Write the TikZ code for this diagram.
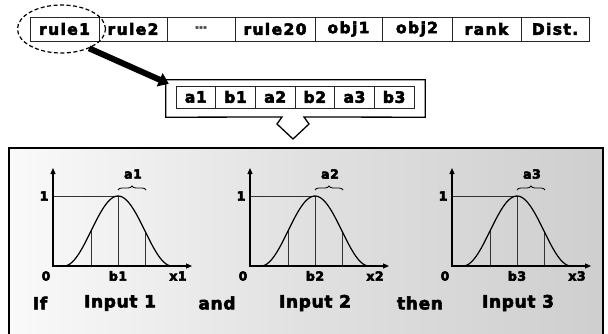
\documentclass[tikz,border=0pt]{standalone}
\usepackage{fontspec}
\newfontfamily\hv{DejaVu Sans}[LetterSpace=4]
\newfontfamily\hvwide{DejaVu Sans}[LetterSpace=9]
\usetikzlibrary{arrows.meta,decorations.pathreplacing,calc,shapes.geometric}
% light-to-grey wash behind the membership functions
\pgfdeclarehorizontalshading{panelfade}{100bp}{color(0bp)=(white); color(20bp)=(white); color(50bp)=(black!12); color(100bp)=(black!26)}
% outline-and-fill text rendering for an extra heavy weight
\newcommand\heavyon{\special{pdf:literal direct 2 Tr 0.55 w}}
\newcommand\heavyoff{\special{pdf:literal direct 0 Tr}}
\begin{document}
\begin{tikzpicture}[x=1pt,y=-1pt,
  heavy/.style={execute at begin node=\heavyon, execute at end node=\heavyoff},
  cell/.style={draw=black!85, line width=0.9pt, inner sep=0pt, minimum height=24pt, heavy,
    font=\hvwide\bfseries\fontsize{15.5}{16}\selectfont},
  subcell/.style={cell, minimum height=22pt, minimum width=39.7pt,
    font=\hv\bfseries\fontsize{15.5}{16}\selectfont},
  ring/.style={draw, ellipse, dashed, dash pattern=on 4pt off 2.5pt, line width=1.2pt,
    minimum width=88pt, minimum height=48pt, inner sep=0pt},
  bigarrow/.style={line width=6pt, -{Triangle[length=10pt,width=14pt]}},
  outline/.style={draw, line width=1.3pt, fill=white, line join=miter},
  axis/.style={line width=1.1pt, {Triangle[length=6pt,width=5pt]}-{Triangle[length=6pt,width=5pt]}},
  curve/.style={line width=1.2pt},
  guide/.style={line width=0.5pt, black!80},
  tick/.style={font=\hv\bfseries\fontsize{12.5}{13}\selectfont, inner sep=0pt, heavy},
  word/.style={font=\hv\bfseries\fontsize{17}{18}\selectfont, inner sep=0pt, heavy}]
\clip (0,0) rectangle (608,333);

% record layout
\foreach \n/\l/\r/\t in {1/30/99/rule1, 2/99/167/rule2, 3/167/235/{\fontsize{12}{12}\selectfont\textcolor{black!70}{⋯}},
    4/235/315/rule20, 5/315/382/obj1, 6/382/452/obj2, 7/452/521/rank, 8/521/589/Dist.}
  \node[cell, minimum width={\r-\l}] (c\n) at ({(\l+\r)/2},29) {\t};
\node[ring] (ring) at (61.5,29) {};

% parameters of one rule
\node[minimum width=259pt, minimum height=37pt, inner sep=0pt] (strip) at (295.5,98.5) {};
\coordinate (drop) at (293,117);
\path[outline] ($(drop)+(-11,0)$) -- (strip.south west) -- (strip.north west) -- (strip.north east)
  -- (strip.south east) -- ($(drop)+(11,0)$) -- ($(drop)+(16,7)$) -- ($(drop)+(0,22)$)
  -- ($(drop)+(-16,7)$) -- cycle;
\foreach \i/\t in {0/a1,1/b1,2/a2,3/b2,4/a3,5/b3}
  \node[subcell] (p\i) at ({176+39.67*(\i+0.5)},97) {\t};
\draw[bigarrow] (ring.-35) -- ($(strip.north west)+(3,4)$);

% rule panel
\shade[shading=panelfade] (9,148) rectangle (603,340);
\draw[line width=1.6pt] (9,340) -- (9,148) -- (603,148) -- (603,340);

\foreach \i/\ox in {1/53, 2/250, 3/452} {
  \pgfmathsetmacro\pk{\ox+65}
  \coordinate (o\i) at (\ox,266);
  \coordinate (ytop\i) at (\ox,168);
  \coordinate (xtip\i) at (\ox+139,266);
  \coordinate (top\i) at (\pk,196);
  \draw[guide] (\ox,196) -- (top\i);
  \draw[guide] (\pk,266) -- (top\i);
  \draw[guide] (\pk-27,266) -- (\pk-27,231);
  \draw[guide] (\pk+27,266) -- (\pk+27,231);
  \draw[curve] plot[domain=-54:54, samples=73, smooth]
    ({\pk+\x},{266-35*(1+cos(180*\x/54))});
  \draw[axis] (ytop\i) -- (o\i) -- (xtip\i);
  \draw[line width=0.8pt, decorate, decoration={brace, amplitude=4pt}] (\pk,190) -- (\pk+28,190);
  \node[tick] (a\i) at (\pk+15,174) {a\i};
  \node[tick] (one\i) at (\ox-9,196) {1};
  \node[tick] (zero\i) at (\ox-7,276) {0};
  \node[tick] (b\i) at (\pk,276) {b\i};
  \node[tick] (x\i) at (\ox+125,276) {x\i};
}

\node[word] (if) at (40,303) {If};
\node[word] (in1) at (120,303) {Input 1};
\node[word] (and) at (217,303) {and};
\node[word] (in2) at (315,303) {Input 2};
\node[word] (then) at (420,303) {then};
\node[word] (in3) at (518,303) {Input 3};
\end{tikzpicture}
\end{document}
